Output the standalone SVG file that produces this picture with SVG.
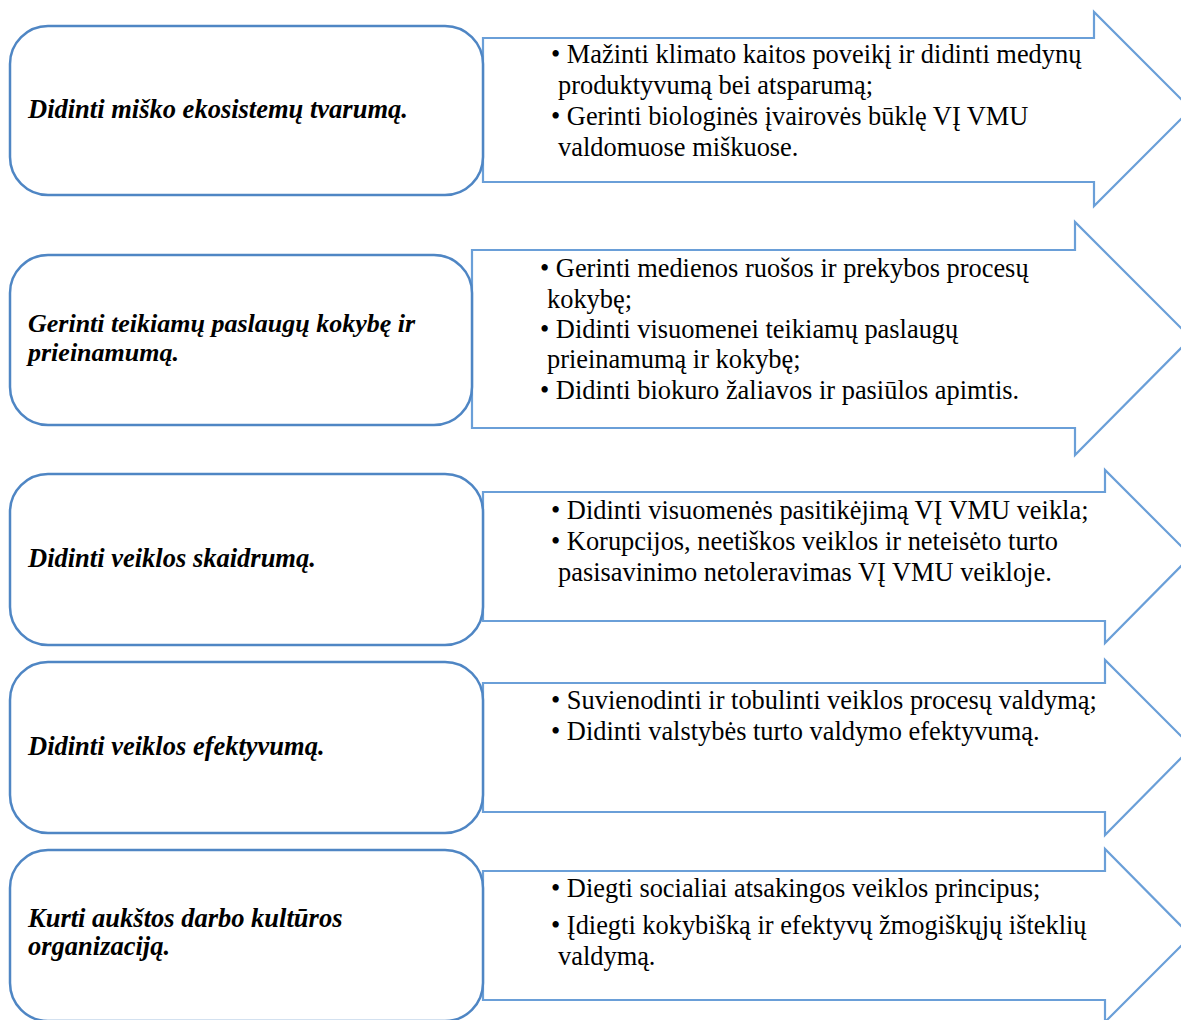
<svg xmlns="http://www.w3.org/2000/svg" width="1181" height="1020" viewBox="0 0 1181 1020">
<style>
.box{fill:#fff;stroke:#4f86c4;stroke-width:2.5}
.arr{fill:#fff;stroke:#6a9fd8;stroke-width:2.2}
.lbl{font-family:'Liberation Serif','Times New Roman','DejaVu Serif',serif;font-size:26.5px;font-weight:bold;font-style:italic;fill:#000}
.lbl2{font-family:'Liberation Serif','Times New Roman','DejaVu Serif',serif;font-size:26px;font-weight:bold;font-style:italic;fill:#000}
.txt{font-family:'Liberation Serif','Times New Roman','DejaVu Serif',serif;font-size:26.4px;fill:#000}
</style>
<rect width="1181" height="1020" fill="#fff"/>
<g id="connectors">
<polygon class="arr" points="483,38 1094,38 1094,12 1191,109 1094,206 1094,182 483,182"/>
<polygon class="arr" points="472,250 1075,250 1075,222 1191,338 1075,455 1075,428 472,428"/>
<polygon class="arr" points="483,492 1105,492 1105,470 1191,556 1105,643 1105,621 483,621"/>
<polygon class="arr" points="483,683 1105,683 1105,660 1192,747 1105,835 1105,812 483,812"/>
<polygon class="arr" points="483,871 1105,871 1105,849 1191,936 1105,1022 1105,1000 483,1000"/>
</g>
<g id="node1">
<rect class="box" x="10" y="26" width="473" height="169" rx="38"/>
<text class="lbl" x="28" y="118">Didinti miško ekosistemų tvarumą.</text>
</g>
<g id="node1-text">
<text class="txt" x="551" y="63">• Mažinti klimato kaitos poveikį ir didinti medynų</text>
<text class="txt" x="558" y="94">produktyvumą bei atsparumą;</text>
<text class="txt" x="551" y="125">• Gerinti biologinės įvairovės būklę VĮ VMU</text>
<text class="txt" x="558" y="156">valdomuose miškuose.</text>
</g>
<g id="node2">
<rect class="box" x="10" y="255" width="462" height="170" rx="38"/>
<text class="lbl2" x="28" y="332">Gerinti teikiamų paslaugų kokybę ir</text>
<text class="lbl2" x="28" y="361">prieinamumą.</text>
</g>
<g id="node2-text">
<text class="txt" x="540" y="277">• Gerinti medienos ruošos ir prekybos procesų</text>
<text class="txt" x="547" y="308">kokybę;</text>
<text class="txt" x="540" y="338">• Didinti visuomenei teikiamų paslaugų</text>
<text class="txt" x="547" y="368">prieinamumą ir kokybę;</text>
<text class="txt" x="540" y="399">• Didinti biokuro žaliavos ir pasiūlos apimtis.</text>
</g>
<g id="node3">
<rect class="box" x="10" y="474" width="473" height="171" rx="38"/>
<text class="lbl" x="28" y="567">Didinti veiklos skaidrumą.</text>
</g>
<g id="node3-text">
<text class="txt" x="551" y="519">• Didinti visuomenės pasitikėjimą VĮ VMU veikla;</text>
<text class="txt" x="551" y="550">• Korupcijos, neetiškos veiklos ir neteisėto turto</text>
<text class="txt" x="558" y="581">pasisavinimo netoleravimas VĮ VMU veikloje.</text>
</g>
<g id="node4">
<rect class="box" x="10" y="662" width="473" height="171" rx="38"/>
<text class="lbl" x="28" y="755">Didinti veiklos efektyvumą.</text>
</g>
<g id="node4-text">
<text class="txt" x="551" y="709">• Suvienodinti ir tobulinti veiklos procesų valdymą;</text>
<text class="txt" x="551" y="740">• Didinti valstybės turto valdymo efektyvumą.</text>
</g>
<g id="node5">
<rect class="box" x="10" y="850" width="473" height="171" rx="38"/>
<text class="lbl" x="28" y="927">Kurti aukštos darbo kultūros</text>
<text class="lbl" x="28" y="955">organizaciją.</text>
</g>
<g id="node5-text">
<text class="txt" x="551" y="897">• Diegti socialiai atsakingos veiklos principus;</text>
<text class="txt" x="551" y="934">• Įdiegti kokybišką ir efektyvų žmogiškųjų išteklių</text>
<text class="txt" x="558" y="965">valdymą.</text>
</g>
</svg>
